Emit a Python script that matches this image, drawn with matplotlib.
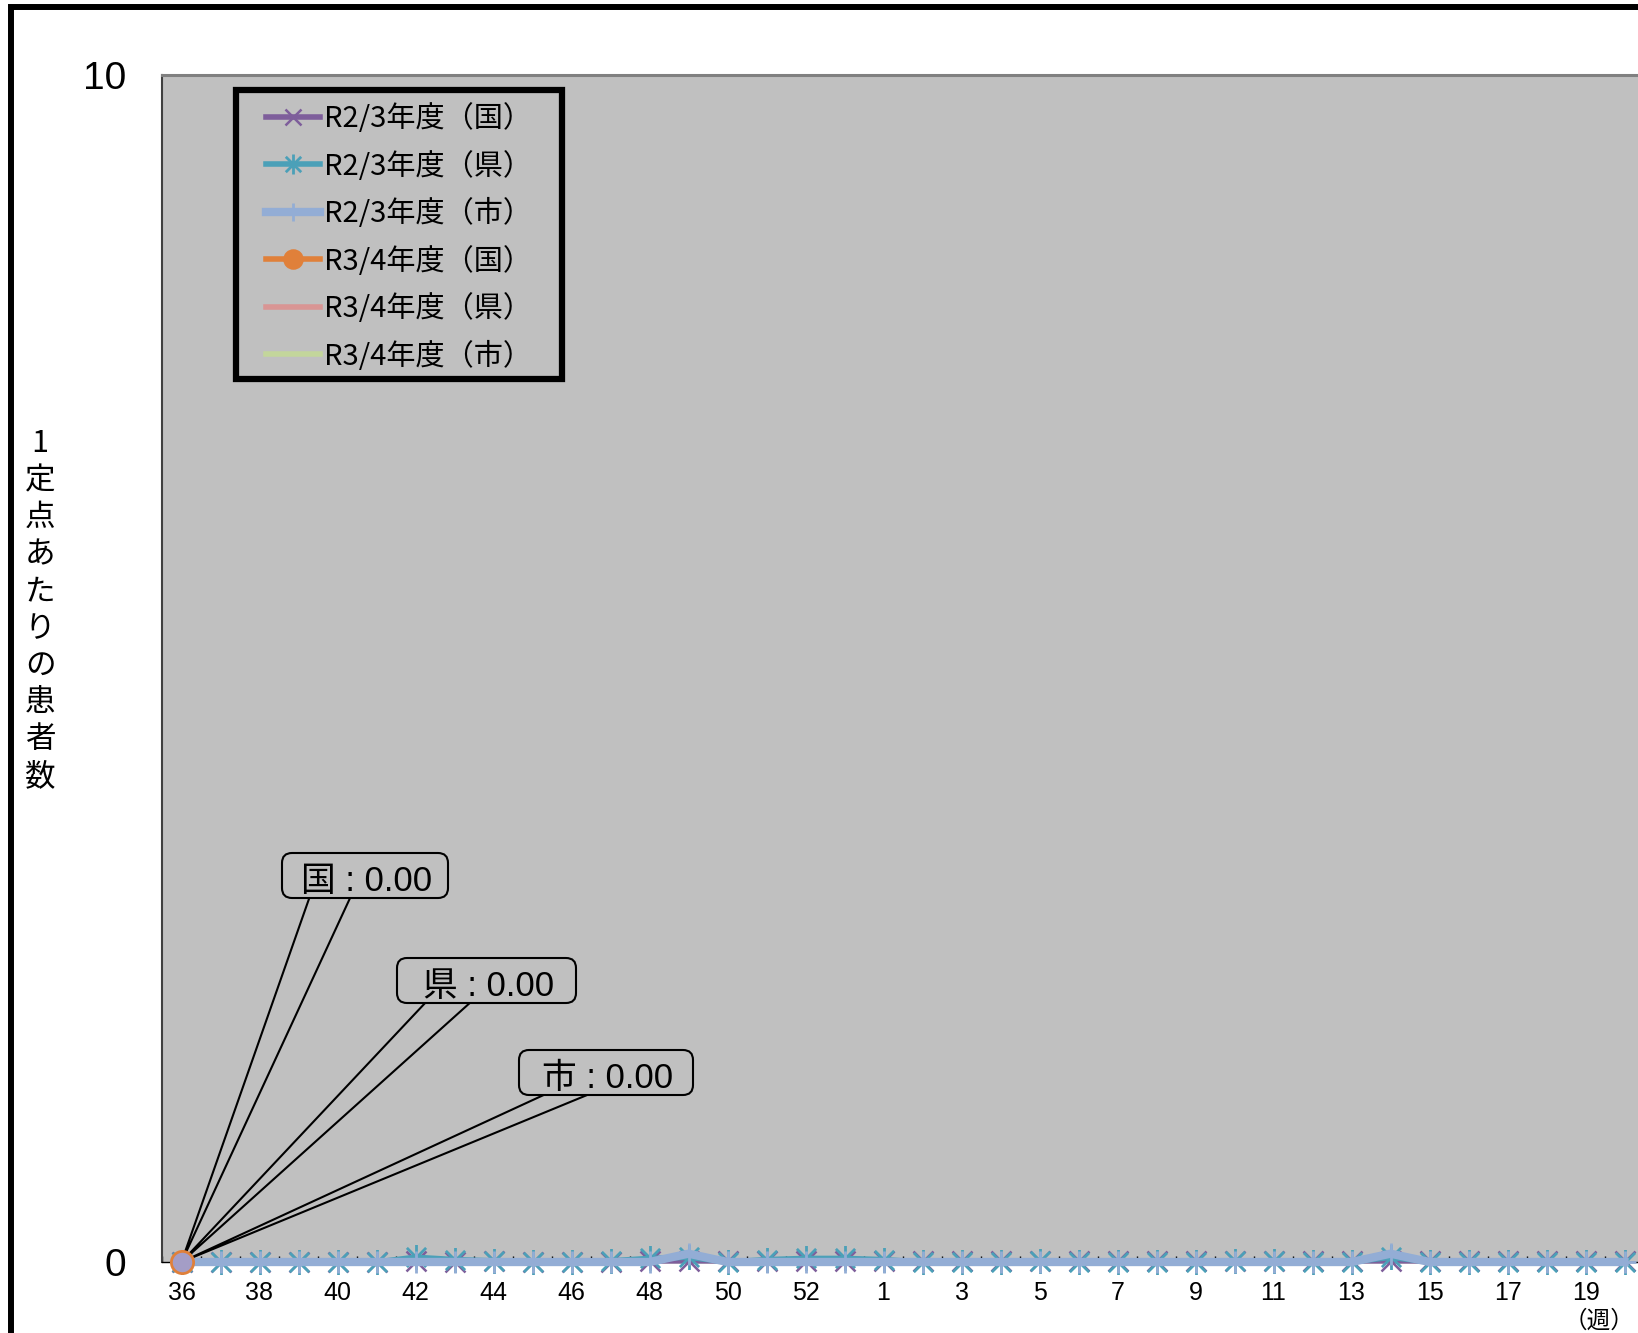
import matplotlib
matplotlib.use("Agg")
import matplotlib.pyplot as plt
from matplotlib.path import Path
from matplotlib.patches import Rectangle, FancyBboxPatch, Polygon

# week labels (R2/3 season has week 53)
weeks = list(range(36, 54)) + list(range(1, 36))

# R2/3 season, weeks 36 .. 20 (visible part)
r2_kuni = [0.00, 0.00, 0.00, 0.00, 0.00, 0.00, 0.01, 0.00, 0.01, 0.00, 0.00, 0.00, 0.01, 0.01,
           0.01, 0.01, 0.01, 0.01, 0.01, 0.01, 0.01, 0.01, 0.01, 0.01, 0.01, 0.01, 0.01, 0.01,
           0.01, 0.01, 0.01, 0.01, 0.01, 0.01, 0.01, 0.01, 0.01, 0.01]
r2_ken = [0.00, 0.00, 0.00, 0.00, 0.00, 0.00, 0.04, 0.02, 0.01, 0.00, 0.00, 0.01, 0.03, 0.04,
          0.00, 0.02, 0.03, 0.03, 0.02, 0.00, 0.00, 0.00, 0.01, 0.00, 0.00, 0.00, 0.00, 0.01,
          0.01, 0.00, 0.00, 0.04, 0.00, 0.00, 0.00, 0.00, 0.00, 0.00]
r2_shi = [0.00, 0.00, 0.00, 0.00, 0.00, 0.00, 0.00, 0.00, 0.00, 0.00, 0.00, 0.00, 0.00, 0.07,
          0.00, 0.00, 0.00, 0.00, 0.00, 0.00, 0.00, 0.00, 0.00, 0.00, 0.00, 0.00, 0.00, 0.00,
          0.00, 0.00, 0.00, 0.07, 0.00, 0.00, 0.00, 0.00, 0.00, 0.00]

# R3/4 season, only week 36 so far
r3_kuni = [0.00]
r3_ken = [0.00]
r3_shi = [0.00]

labels = ["R2/3年度（国）", "R2/3年度（県）", "R2/3年度（市）",
          "R3/4年度（国）", "R3/4年度（県）", "R3/4年度（市）"]
callout_names = ["国", "県", "市"]
callout_vals = [r3_kuni[-1], r3_ken[-1], r3_shi[-1]]

W, H = 1638, 1333


def fp(x, y):
    # image pixel -> figure fraction
    return x / W, 1 - y / H


cjk = "Noto Sans CJK JP"
fig = plt.figure(figsize=(W / 100, H / 100), dpi=100)
fig.patch.set_facecolor("white")

# plot area runs past the right edge of the picture
ax = fig.add_axes([162 / W, 71 / H, 53 * 39 / W, (1262 - 75) / H])
ax.set_facecolor("#C0C0C0")
ax.spines["left"].set_color("#404040")
ax.spines["left"].set_linewidth(1.5)
ax.spines["top"].set_color("#808080")
ax.spines["top"].set_linewidth(2.2)
ax.spines["right"].set_visible(False)
ax.spines["bottom"].set_color("black")
ax.spines["bottom"].set_linewidth(1)

star = Path([(-1, -1), (1, 1), (-1, 1), (1, -1), (0, -1.3), (0, 1.3)],
            [Path.MOVETO, Path.LINETO, Path.MOVETO, Path.LINETO, Path.MOVETO, Path.LINETO])

x2 = range(len(r2_kuni))
x3 = range(len(r3_kuni))
lw = 4
h1, = ax.plot(x2, r2_kuni, color="#7E5E9B", lw=lw, marker="x", ms=15, mew=1.8, label=labels[0],
              zorder=3, clip_on=False)
h2, = ax.plot(x2, r2_ken, color="#4BA0B8", lw=lw, marker=star, ms=18, mew=2, label=labels[1],
              zorder=3, clip_on=False)
h3, = ax.plot(x2, r2_shi, color="#93ADD5", lw=6, marker="+", ms=16, mew=2, label=labels[2],
              zorder=3, clip_on=False)
h4, = ax.plot(x3, r3_kuni, color="#E0803A", lw=lw, marker="o", ms=16, mfc="#A49DC6", mec="#E0803A",
              mew=2, label=labels[3], zorder=8, clip_on=False)
h5, = ax.plot(x3, r3_ken, color="#D99594", lw=lw, label=labels[4], zorder=3, clip_on=False)
h6, = ax.plot(x3, r3_shi, color="#C3D69B", lw=lw, label=labels[5], zorder=3, clip_on=False)

ax.set_xlim(-0.5, len(weeks) - 0.5)
ax.set_ylim(0, 10)
ax.set_yticks([0, 10])
ax.set_yticklabels(["0", "10"], fontsize=28, family=["Liberation Sans", cjk])
ax.tick_params(axis="y", length=0, pad=26)
# only the labels that fit inside the picture (36 .. 19)
shown = range(0, 37, 2)
ax.set_xticks(list(shown))
ax.set_xticklabels([str(weeks[i]) for i in shown], fontsize=18, family=["Liberation Sans", cjk])
ax.set_xticks([i + 0.5 for i in range(-1, len(weeks))], minor=True)
ax.tick_params(axis="x", which="major", length=0, pad=14)
ax.tick_params(axis="x", which="minor", direction="in", length=4, width=1, color="black")

# y label, one character per line
fig.text(40 / W, 1 - 610 / H, "\n".join("1定点あたりの患者数"), ha="center", va="center",
         fontsize=22, family=[cjk], linespacing=1.25)
fig.text(1634 / W, 1 - 1321 / H, "（週）", ha="right", va="center", fontsize=17, family=[cjk])

# legend with thick black frame
ax.add_patch(Rectangle(fp(236, 379), 326 / W, 289 / H, transform=fig.transFigure,
                       facecolor="#C0C0C0", edgecolor="black", lw=4.5, zorder=9))
leg = ax.legend(handles=[h1, h2, h3, h4, h5, h6], loc="upper left", bbox_to_anchor=fp(266, 104),
                bbox_transform=fig.transFigure, frameon=False, borderaxespad=0, borderpad=0,
                prop={"family": [cjk], "size": 21},
                handlelength=1.85, handletextpad=0.15, labelspacing=0.6, numpoints=1, markerscale=0.8)
leg.set_zorder(10)
leg.legend_handles[3].set_markerfacecolor("#E0803A")

# data callouts
boxes = [(282, 853, 448, 898, 310, 351), (397, 958, 576, 1003, 427, 472), (519, 1050, 693, 1095, 548, 592)]
for name, val, (bx0, by0, bx1, by1, t0, t1) in zip(callout_names, callout_vals, boxes):
    tip = fig.transFigure.inverted().transform(ax.transData.transform((0, val)))
    ax.add_patch(Polygon([fp(t0, by1 - 2), tip, fp(t1, by1 - 2)], closed=True, transform=fig.transFigure,
                         facecolor="#C0C0C0", edgecolor="black", lw=1.5, zorder=5))
    ax.add_patch(FancyBboxPatch((bx0, H - by1), bx1 - bx0, by1 - by0, boxstyle="round,pad=0,rounding_size=10",
                                transform=None, facecolor="#C0C0C0", edgecolor="black", lw=1.5, zorder=6))
    ax.text(*fp((bx0 + bx1) / 2 + 2, (by0 + by1) / 2 + 6), f"{name} : {val:.2f}", transform=fig.transFigure,
            ha="center", va="center", fontsize=25, family=["Liberation Sans", cjk], zorder=7)

# outer chart border
fig.add_artist(Rectangle((11 / W, -0.5), 2, 0.5 + 1 - 6.5 / H, transform=fig.transFigure,
                         fill=False, edgecolor="black", lw=4.3))

fig.savefig("out.png", dpi=100)
